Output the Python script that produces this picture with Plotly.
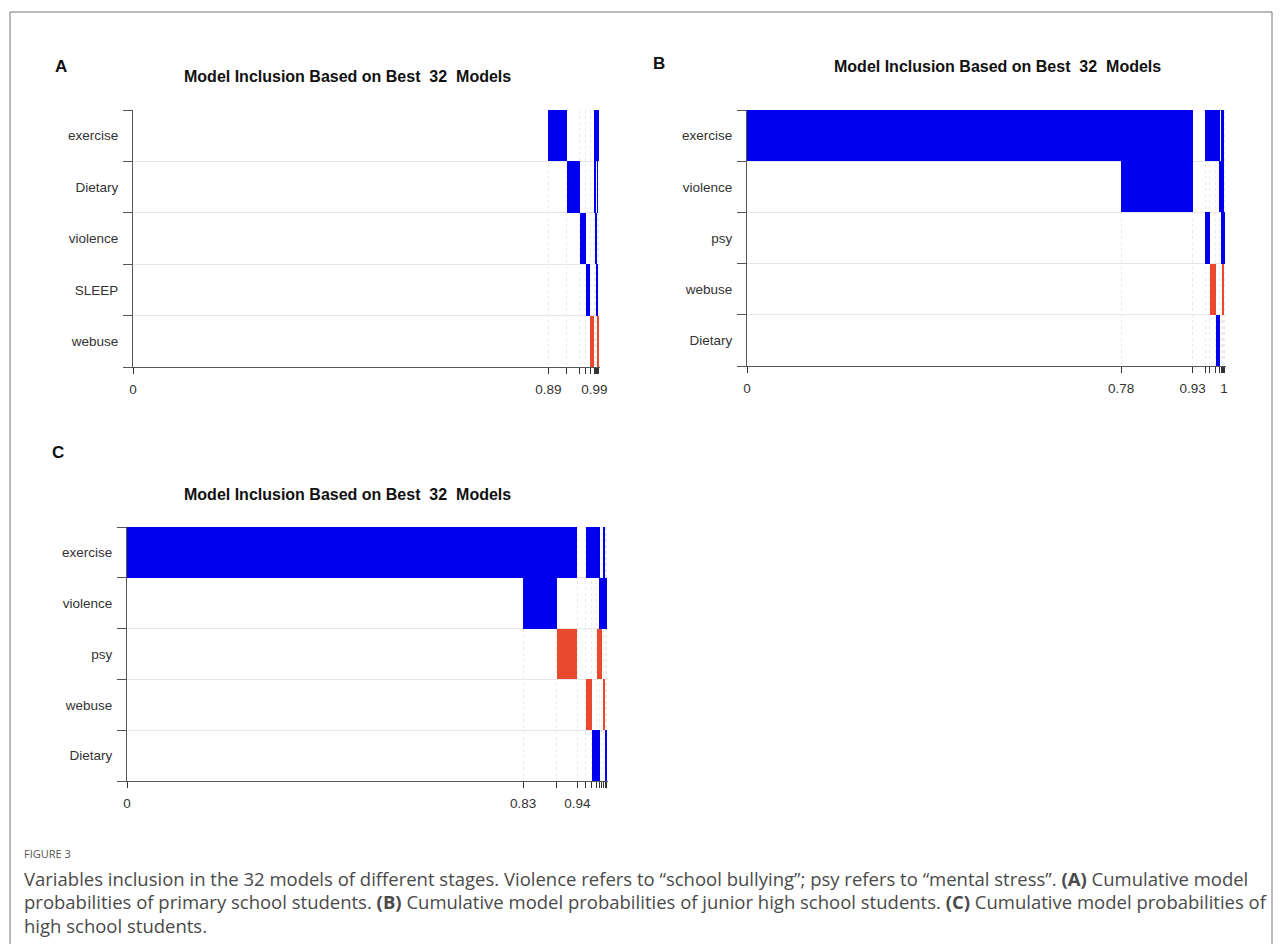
import plotly.graph_objects as go

# page is shown with an 8px body margin, so the figure is 16px smaller than the window
OFF = 8
W, H = 1282 - 2 * OFF, 952 - 2 * OFF

# ---------------- data ----------------
# Panel A (primary school)
a_rows = ["exercise", "Dietary", "violence", "SLEEP", "webuse"]
a_probs = [0.893, 0.039, 0.028, 0.013, 0.010, 0.009, 0.003, 0.002, 0.001, 0.001, 0.001]
a_signs = [
    [0, 0, 0, 0, 0],
    [1, 0, 0, 0, 0],
    [0, 1, 0, 0, 0],
    [0, 0, 1, 0, 0],
    [0, 0, 0, 1, 0],
    [0, 0, 0, 0, -1],
    [1, 1, 0, 0, 0],
    [1, 0, 1, 0, 0],
    [1, 0, 0, 1, 0],
    [0, 1, 0, 0, -1],
    [1, 0, 0, 0, -1],
]
a_tick_labels = ["0", "0.89", "", "", "", "", "0.99", "", "", "", "", ""]

# Panel B (junior high school)
b_rows = ["exercise", "violence", "psy", "webuse", "Dietary"]
b_probs = [0.784, 0.150, 0.027, 0.009, 0.012, 0.009, 0.004, 0.002, 0.001, 0.001, 0.001]
b_signs = [
    [1, 0, 0, 0, 0],
    [1, 1, 0, 0, 0],
    [0, 0, 0, 0, 0],
    [1, 0, 1, 0, 0],
    [1, 0, 0, -1, 0],
    [1, 0, 0, 0, 1],
    [0, 1, 0, 0, 0],
    [1, 1, 1, 0, 0],
    [0, 1, 0, -1, 0],
    [1, 1, 0, -1, 0],
    [0, 0, 1, 0, 0],
]
b_tick_labels = ["0", "0.78", "0.93", "", "", "", "", "", "", "", "", "1"]

# Panel C (high school)
c_rows = ["exercise", "violence", "psy", "webuse", "Dietary"]
c_probs = [0.827, 0.070, 0.043, 0.018, 0.012, 0.011, 0.006, 0.004, 0.004, 0.003, 0.002]
c_signs = [
    [1, 0, 0, 0, 0],
    [1, 1, 0, 0, 0],
    [1, 0, -1, 0, 0],
    [0, 0, 0, 0, 0],
    [1, 0, 0, -1, 0],
    [1, 0, 0, 0, 1],
    [1, 0, -1, 0, 1],
    [0, 1, -1, 0, 0],
    [0, 1, 0, 0, 0],
    [1, 1, 0, -1, 0],
    [0, 1, 0, 0, 1],
]
c_tick_labels = ["0", "0.83", "", "0.94", "", "", "", "", "", "", "", ""]

title_text = "Model Inclusion Based on Best\u00a0 32\u00a0 Models"
caption_head = "FIGURE 3"
caption_lines = [
    "Variables inclusion in the 32 models of different stages. Violence refers to \u201cschool bullying\u201d; psy refers to \u201cmental stress\u201d. <b>(A)</b> Cumulative model",
    "probabilities of primary school students. <b>(B)</b> Cumulative model probabilities of junior high school students. <b>(C)</b> Cumulative model probabilities of",
    "high school students.",
]

BLUE = "#0000EE"
RED = "#E8492F"
FONT = "Liberation Sans, Arial, sans-serif"


def px_x(p):
    return (p - OFF) / W


def px_y(p):
    return 1 - (p - OFF) / H


panels = [
    # rows, probs, signs, labels, (left, right, top, bottom) px, letter, letter pos, title pos
    (a_rows, a_probs, a_signs, a_tick_labels, (133, 600, 110, 367), "A", (61, 66), (347, 77)),
    (b_rows, b_probs, b_signs, b_tick_labels, (747, 1226, 110, 366), "B", (659, 63), (997, 66)),
    (c_rows, c_probs, c_signs, c_tick_labels, (127, 608, 527, 781), "C", (58, 452), (347, 494)),
]

fig = go.Figure()
annotations = []
layout_axes = {}

for k, (rows, probs, signs, tlabels, box, letter, lpos, tpos) in enumerate(panels):
    sfx = "" if k == 0 else str(k + 1)
    xa, ya = "x" + sfx, "y" + sfx
    cum = [0.0]
    for p in probs:
        cum.append(round(cum[-1] + p, 6))
    pos = {"x": [], "y": [], "base": []}
    neg = {"x": [], "y": [], "base": []}
    for j, p in enumerate(probs):
        for i, s in enumerate(signs[j]):
            if s == 0:
                continue
            d = pos if s > 0 else neg
            d["x"].append(p)
            d["y"].append(i)
            d["base"].append(cum[j])
    for d, col in ((pos, BLUE), (neg, RED)):
        fig.add_trace(go.Bar(
            x=d["x"], y=d["y"], base=d["base"], orientation="h", width=1,
            marker=dict(color=col, line=dict(width=0)),
            xaxis=xa, yaxis=ya, showlegend=False, hoverinfo="skip",
        ))
    l, r, t, b = box
    layout_axes["xaxis" + sfx] = dict(
        domain=[px_x(l), px_x(r)], anchor=ya, range=[0, 1.004], automargin=False,
        tickmode="array", tickvals=cum, ticktext=tlabels,
        ticks="outside", ticklen=6, tickcolor="#333", tickwidth=1,
        ticklabelstandoff=4,
        showgrid=True, gridcolor="#ebebeb", griddash="dot", gridwidth=1,
        showline=True, linecolor="#555", linewidth=1, zeroline=False,
        tickfont=dict(family=FONT, size=13.5, color="#333"),
        fixedrange=True,
    )
    layout_axes["yaxis" + sfx] = dict(
        domain=[px_y(b), px_y(t)], anchor=xa, range=[len(rows) - 0.5, -0.5], automargin=False,
        tickmode="array", tickvals=list(range(len(rows))), ticktext=rows,
        ticks="outside", ticklen=11, tickcolor="rgba(0,0,0,0)",
        showgrid=False, zeroline=False,
        showline=True, linecolor="#555", linewidth=1,
        minor=dict(tickmode="array", tickvals=[i - 0.5 for i in range(len(rows) + 1)],
                   ticks="outside", ticklen=9, tickcolor="#555", tickwidth=1,
                   showgrid=True, gridcolor="#e6e6e6", gridwidth=1),
        tickfont=dict(family=FONT, size=13.5, color="#333"),
        fixedrange=True,
    )
    annotations.append(dict(
        text="<b>%s</b>" % letter, x=px_x(lpos[0]), y=px_y(lpos[1]), xref="paper", yref="paper",
        xanchor="center", yanchor="middle", showarrow=False,
        font=dict(family=FONT, size=17, color="#111"),
    ))
    annotations.append(dict(
        text="<b>%s</b>" % title_text, x=px_x(tpos[0]), y=px_y(tpos[1]), xref="paper", yref="paper",
        xanchor="center", yanchor="middle", showarrow=False,
        font=dict(family=FONT, size=16, color="#111"),
    ))

annotations.append(dict(
    text=caption_head, x=px_x(22), y=px_y(853), xref="paper", yref="paper",
    xanchor="left", yanchor="middle", showarrow=False,
    font=dict(family="Open Sans, sans-serif", size=11, color="#555"),
))
for i, line in enumerate(caption_lines):
    annotations.append(dict(
        text=line, x=px_x(22), y=px_y(878 + i * 23.5), xref="paper", yref="paper",
        xanchor="left", yanchor="middle", showarrow=False,
        font=dict(family="Open Sans, sans-serif", size=18.5, color="#4a4a4a"),
    ))

fig.update_layout(
    width=W, height=H, autosize=False,
    margin=dict(l=0, r=0, t=0, b=0, pad=0),
    paper_bgcolor="white", plot_bgcolor="white",
    barmode="overlay", bargap=0,
    annotations=annotations,
    shapes=[dict(type="rect", xref="paper", yref="paper",
                 x0=px_x(10), x1=px_x(1272), y0=px_y(990), y1=px_y(12),
                 line=dict(color="#777", width=1))],
    **layout_axes,
)

fig.write_html("out.html")
